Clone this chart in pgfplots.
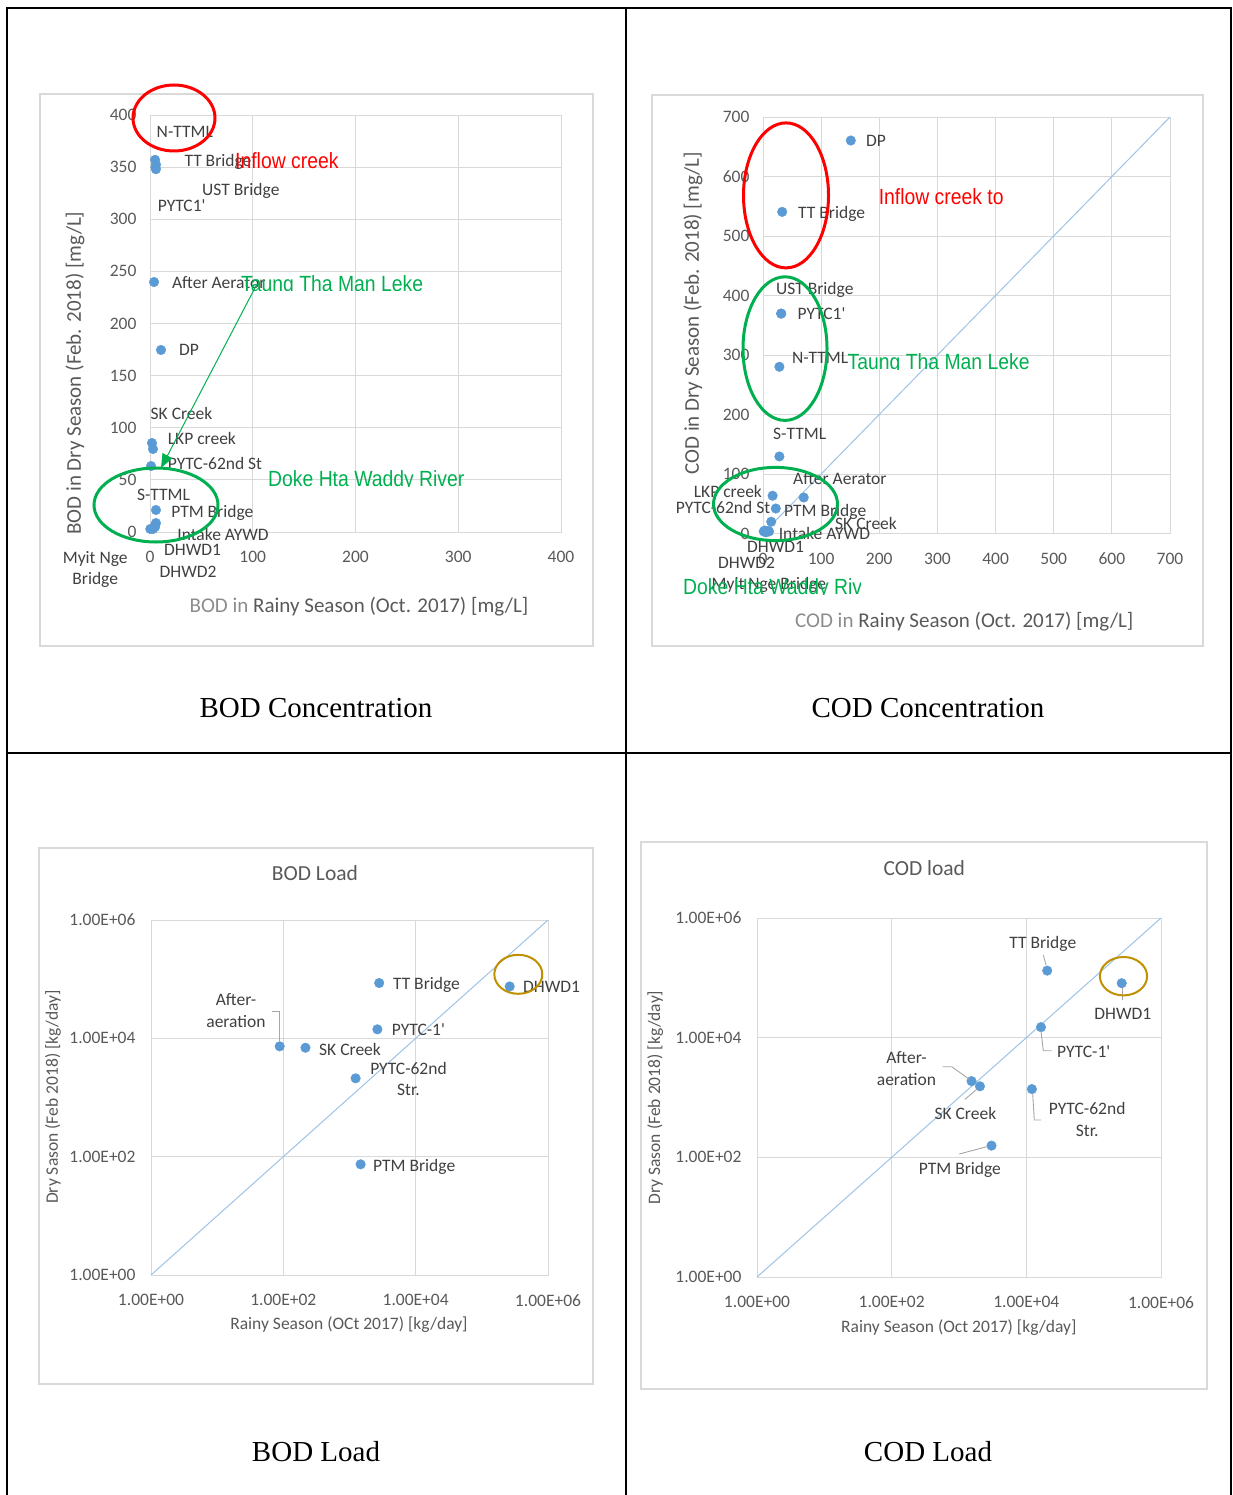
\documentclass[border=0pt]{standalone}
\usepackage{fontspec}
\setmainfont{Carlito}
\newfontfamily\capfont{Liberation Serif}
\newfontfamily\notefont[FakeStretch=0.88]{Liberation Sans}
\usepackage{pgfplots}
\pgfplotsset{compat=1.18}
\usetikzlibrary{arrows.meta}

\definecolor{ptc}{HTML}{5B9BD5}
\definecolor{diagc}{HTML}{9DC3E6}
\definecolor{gridc}{HTML}{D9D9D9}
\definecolor{tickc}{HTML}{595959}
\definecolor{lgray}{HTML}{8C8C8C}
\definecolor{labc}{HTML}{404040}
\definecolor{leadc}{HTML}{A6A6A6}
\definecolor{redn}{HTML}{FF0000}
\definecolor{greenn}{HTML}{00B050}
\definecolor{goldn}{HTML}{BF9000}

\newcommand\tkfont{\fontsize{17.5}{21}\selectfont}
\newcommand\bigfont{\fontsize{21}{25}\selectfont}
\newcommand\ttlfont{\fontsize{21.5}{25}\selectfont}
\newcommand\nfont{\notefont\fontsize{22}{26}\selectfont}
\newcommand\cfont{\capfont\fontsize{29}{34}\selectfont}

\pgfplotsset{
  excel/.style={
    scale only axis, anchor=south west, clip=false,
    axis line style={draw=gridc, line width=1pt},
    grid=major, major grid style={draw=gridc, line width=1pt},
    major tick length=0pt,
    tick label style={font=\tkfont, text=tickc},
    xticklabel style={yshift=-16pt},
    yticklabel style={xshift=-10pt},
    /pgf/number format/assume math mode=true,
    label style={font=\tkfont, text=tickc},
  },
  logticks/.style={
    xmin=1, xmax=1000000, ymin=1, ymax=1000000,
    xtick={1,100,10000,1000000}, ytick={1,100,10000,1000000},
    xticklabels={1.00E+00,1.00E+02,1.00E+04,1.00E+06},
    yticklabels={1.00E+00,1.00E+02,1.00E+04,1.00E+06},
    yticklabel style={xshift=-2pt},
    title style={font=\ttlfont, text=tickc, anchor=center},
  },
  dots/.style={only marks, mark=*, mark size=4.8pt, color=ptc, mark options={fill=ptc, draw=ptc}},
  diag/.style={no marks, draw=diagc, line width=1pt},
}
\tikzset{
  px/.style={x=1pt, y=-1pt},
  lw/.style={anchor=base west, inner sep=0pt, font=\tkfont, text=labc, yshift=-5.6pt},
  lc/.style={anchor=base, inner sep=0pt, font=\tkfont, text=labc, yshift=-5.6pt},
  note/.style={anchor=base west, inner sep=0pt, font=\nfont},
  lead/.style={draw=leadc, line width=0.9pt},
}

\begin{document}
\begin{tikzpicture}
\begin{scope}[px]
\useasboundingbox (0,0) rectangle (1232,1495);
% table rules
\draw[line width=2.2pt] (7,1495) -- (7,8) -- (1231,8) -- (1231,1495);
\draw[line width=2.2pt] (626,8) -- (626,1495);
\draw[line width=2.2pt] (7,753) -- (1231,753);
% chart frames
\draw[gridc, line width=1.5pt] (40,94) rectangle (593,646);
\draw[gridc, line width=1.5pt] (652,95) rectangle (1203,646);
\draw[gridc, line width=1.5pt] (39,848) rectangle (593,1384);
\draw[gridc, line width=1.5pt] (641,842) rectangle (1207,1389);
% captions
\node[anchor=base, font=\cfont] at (316,717) {BOD Concentration};
\node[anchor=base, font=\cfont] at (928,717) {COD Concentration};
\node[anchor=base, font=\cfont] at (316,1461) {BOD Load};
\node[anchor=base, font=\cfont] at (928,1461) {COD Load};
\end{scope}

% ---------- BOD concentration
\begin{axis}[excel, at={(150pt,-532pt)}, width=411pt, height=417pt,
  xmin=0, xmax=400, ymin=0, ymax=400,
  xtick={0,100,...,400}, ytick={0,50,...,400},
  label style={font=\bigfont},
  xlabel={{\color{lgray}BOD in} Rainy Season (Oct. 2017) [mg/L]},
  ylabel={BOD in Dry Season (Feb. 2018) [mg/L]},
  xlabel style={at={(axis description cs:0.5085,-0.18)}, anchor=center},
  ylabel style={at={(axis description cs:-0.1825,0.381)}, anchor=center},
]
\addplot[dots] coordinates {
(4.9,357) (5.8,352.5) (5.3,350) (5.8,348)
(3.9,239.8) (10.7,174.6)
(1.9,85.4) (2.9,79.6) (1.0,63.3)
(5.8,21.1) (5.8,8.6) (4.9,4.8) (0.3,2.9) (2.9,2.9) (5.0,6.5)
};
\end{axis}

% ---------- COD concentration
\begin{axis}[excel, at={(763pt,-533.5pt)}, width=407pt, height=416.5pt,
  xmin=0, xmax=700, ymin=0, ymax=700,
  xtick={0,100,...,700}, ytick={0,100,...,700},
  label style={font=\bigfont},
  xlabel={{\color{lgray}COD in} Rainy Season (Oct. 2017) [mg/L]},
  ylabel={COD in Dry Season (Feb. 2018) [mg/L]},
  xlabel style={at={(axis description cs:0.4946,-0.2125)}, anchor=center},
  ylabel style={at={(axis description cs:-0.172,0.529)}, anchor=center},
]
\addplot[diag] coordinates {(0,0) (700,700)};
\addplot[dots] coordinates {
(151,660.5) (33,540.6) (31.3,369.6) (31.3,369.6) (28.2,280.2) (28.2,129.5)
(16.5,63.5) (70,60.5) (22,42) (14.1,19.8)
(1.2,3.5) (10.3,3.5) (5,2) (8,4) (3,5)
};
\end{axis}

% ---------- BOD load
\begin{loglogaxis}[excel, logticks, at={(151pt,-1275pt)}, width=397pt, height=355pt,
  title={BOD Load},
  title style={at={(axis description cs:0.413,1.115)}},
  xlabel={Rainy Season (OCt 2017) [kg/day]},
  ylabel={Dry Sason (Feb 2018) [kg/day]},
  xlabel style={at={(axis description cs:0.4987,-0.1408)}, anchor=center},
  ylabel style={at={(axis description cs:-0.2469,0.5014)}, anchor=center},
]
\addplot[diag] coordinates {(1,1) (1000000,1000000)};
\addplot[dots] coordinates {
(2810,86100) (263600,75400) (2640,14200) (88,7330) (216,6940) (1236,2110) (1472,74.3)
};
\end{loglogaxis}

% ---------- COD load
\begin{loglogaxis}[excel, logticks, at={(757pt,-1277pt)}, width=404pt, height=359pt,
  title={COD load},
  title style={at={(axis description cs:0.414,1.122)}},
  xlabel={Rainy Season (Oct 2017) [kg/day]},
  ylabel={Dry Sason (Feb 2018) [kg/day]},
  xlabel style={at={(axis description cs:0.4995,-0.1407)}, anchor=center},
  ylabel style={at={(axis description cs:-0.252,0.5)}, anchor=center},
]
\addplot[diag] coordinates {(1,1) (1000000,1000000)};
\addplot[dots] coordinates {
(20400,132000) (261000,81400) (16500,15000) (1535,1880) (2045,1540) (12100,1383) (3040,157)
};
\end{loglogaxis}

\begin{scope}[px]
% BOD concentration labels
\node[lw] at (156.5,131.7) {N-TTML};
\node[lw] at (184.3,161.3) {TT Bridge};
\node[lw] at (202,189.8) {UST Bridge};
\node[lw] at (157.6,205.8) {PYTC1\textquotesingle};
\node[lw] at (171.9,283.2) {After Aerator};
\node[lw] at (179,349.4) {DP};
\node[lw] at (150.5,414.3) {SK Creek};
\node[lw] at (167.6,439.2) {LKP creek};
\node[lw] at (167.6,464.2) {PYTC-62nd St};
\node[lw] at (136.9,495.2) {S-TTML};
\node[lw] at (171.1,512.3) {PTM Bridge};
\node[lw] at (177.2,534.4) {Intake AYWD};
\node[lw] at (164,549.7) {DHWD1};
\node[lw] at (159.4,572.2) {DHWD2};
\node[lc] at (95.2,557.6) {Myit Nge};
\node[lc] at (95.2,579.3) {Bridge};
\draw[redn, line width=3pt] (174,118) ellipse [x radius=41, y radius=33];
\node[note, text=redn] at (235,168.4) {Inflow creek};
\begin{scope}
\clip (0,0) rectangle (1232,291);
\node[note, text=greenn] at (241,291) {Taung Tha Man Leke};
\end{scope}
\begin{scope}
\clip (0,300) rectangle (1232,486);
\node[note, text=greenn] at (268,486) {Doke Hta Waddy River};
\end{scope}
\draw[greenn, line width=1pt, -{Triangle[length=14pt, width=11pt]}] (257,284) -- (161,468);
\draw[greenn, line width=3pt] (156,505) ellipse [x radius=62, y radius=37];

% COD concentration labels
\node[lw] at (866,140.7) {DP};
\node[lw] at (798,213) {TT Bridge};
\node[lw] at (776,289) {UST Bridge};
\node[lw] at (797.5,314) {PYTC1\textquotesingle};
\node[lw] at (791.8,357.9) {N-TTML};
\node[lw] at (773,434) {S-TTML};
\node[lw] at (793,478.6) {After Aerator};
\node[lw] at (693.6,492) {LKP creek};
\node[lw] at (675.7,507.9) {PYTC-62nd St};
\node[lw] at (784,510.7) {PTM Bridge};
\node[lw] at (835,524) {SK Creek};
\node[lw] at (778.6,534) {Intake AYWD};
\node[lw] at (747,547) {DHWD1};
\node[lw] at (717.9,563) {DHWD2};
\node[lw] at (711.4,584) {Myit Nge Bridge};
\draw[redn, line width=3pt] (786,195.4) ellipse [x radius=42.5, y radius=72.5];
\node[note, text=redn] at (878.6,205) {Inflow creek to};
\begin{scope}
\clip (0,300) rectangle (1232,369.6);
\node[note, text=greenn] at (847.5,369.6) {Taung Tha Man Leke};
\end{scope}
\begin{scope}
\clip (600,560) rectangle (860,594);
\node[note, text=greenn] at (683,594) {Doke Hta Waddy River};
\end{scope}
\draw[greenn, line width=3pt] (785,348.6) ellipse [x radius=42, y radius=71.8];
\draw[greenn, line width=3pt] (775.5,504) ellipse [x radius=62, y radius=36.6];

% BOD load labels
\node[lw] at (392.8,983.7) {TT Bridge};
\node[lw] at (523,987) {DHWD1};
\node[lc] at (236,1000) {After-};
\node[lc] at (236,1022) {aeration};
\node[lw] at (391.7,1029.6) {PYTC-1\textquotesingle};
\node[lw] at (319,1049.5) {SK Creek};
\node[lc] at (408.5,1068.6) {PYTC-62nd};
\node[lc] at (408.5,1089.8) {Str.};
\node[lw] at (373,1165.4) {PTM Bridge};
\draw[lead] (271.9,1011.7) -- (279,1011.7) -- (279,1042);
\draw[goldn, line width=2pt] (518.3,974.3) ellipse [x radius=24, y radius=19.5];

% COD load labels
\node[lc] at (1042.8,942.4) {TT Bridge};
\node[lc] at (1122.8,1013.8) {DHWD1};
\node[lw] at (1057,1051.5) {PYTC-1\textquotesingle};
\node[lc] at (906.5,1057.4) {After-};
\node[lc] at (906.5,1079.4) {aeration};
\node[lc] at (965.4,1113.9) {SK Creek};
\node[lc] at (1087.2,1109) {PYTC-62nd};
\node[lc] at (1087.2,1130.6) {Str.};
\node[lc] at (959.9,1168.9) {PTM Bridge};
\draw[lead] (1043.3,955) -- (1046,965);
\draw[lead] (1122,988) -- (1122,1000);
\draw[lead] (1041,1031) -- (1043.3,1050.7) -- (1051.7,1050.7);
\draw[lead] (942.7,1066.7) -- (951.7,1066.7) -- (969.3,1079.3);
\draw[lead] (965,1099.3) -- (976.7,1089.3);
\draw[lead] (1032.7,1094) -- (1034.3,1120) -- (1041,1120);
\draw[lead] (959.3,1154) -- (986.7,1146.7);
\draw[goldn, line width=2pt] (1123.5,976.2) ellipse [x radius=23.6, y radius=19.2];
\end{scope}
\end{tikzpicture}
\end{document}
